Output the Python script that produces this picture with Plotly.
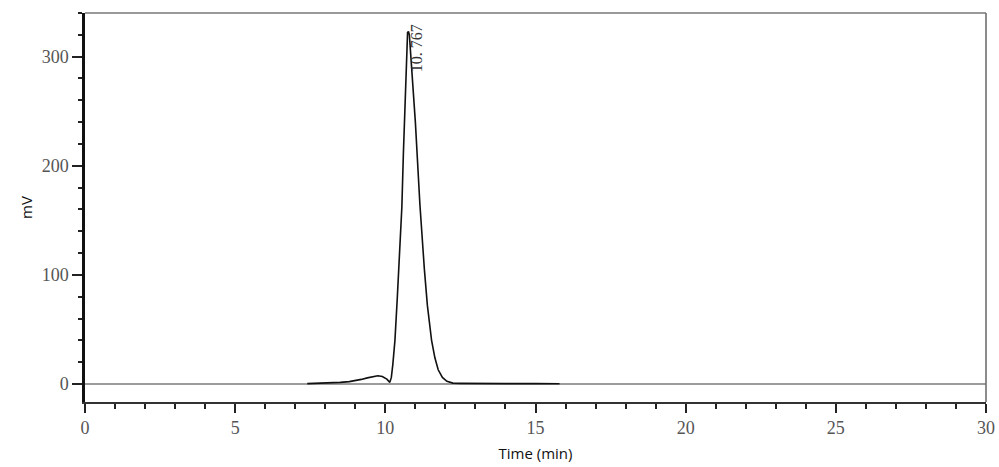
import plotly.graph_objects as go

# Chromatogram trace (time in min, signal in mV)
time_min = [7.4, 8.0, 8.5, 8.8, 9.0, 9.2, 9.4, 9.6, 9.75, 9.9, 10.05, 10.15, 10.2, 10.25,
            10.32, 10.4, 10.45, 10.5, 10.55, 10.6, 10.65, 10.7, 10.74, 10.77, 10.8,
            10.85, 10.9, 11.0, 11.1, 11.15, 11.3, 11.4, 11.54, 11.65, 11.76, 11.9,
            12.05, 12.25, 12.5, 13.0, 14.0, 15.0, 15.8]
signal_mv = [0.3, 0.8, 1.5, 2.2, 3.0, 4.2, 5.6, 7.0, 7.5, 6.8, 4.5, 1.5, 6.0, 18,
             40, 80, 105, 135, 162, 210, 258, 305, 322, 323, 320,
             300, 282, 240, 190, 165, 105, 72, 40, 24, 13, 6,
             2.5, 0.8, 0.6, 0.4, 0.3, 0.3, 0.2]

baseline_t = [0, 30]
baseline_v = [0, 0]

peak_time = [10.767]
peak_label = ["10. 767"]
peak_label_y = [308]

x_ticks = [0, 5, 10, 15, 20, 25, 30]
y_ticks = [0, 100, 200, 300]

fig = go.Figure()
fig.add_trace(go.Scatter(x=baseline_t, y=baseline_v, mode="lines",
                         line=dict(color="#3a3a3a", width=1.2), showlegend=False))
fig.add_trace(go.Scatter(x=time_min, y=signal_mv, mode="lines",
                         line=dict(color="#111111", width=1.6), showlegend=False))

fig.add_annotation(x=peak_time[0] + 0.3, y=peak_label_y[0], text=peak_label[0],
                   textangle=-90, showarrow=False,
                   font=dict(family="Liberation Serif", size=16, color="#333333"))

tickfont = dict(family="Liberation Serif", size=18, color="#555555")
fig.update_layout(
    width=999, height=467,
    margin=dict(l=85, r=13, t=13, b=65, autoexpand=False),
    plot_bgcolor="white", paper_bgcolor="white",
    xaxis=dict(range=[0, 30], tickvals=x_ticks, ticks="outside", ticklen=9,
               tickwidth=1.5, tickcolor="#222222", showgrid=False, zeroline=False,
               showline=True, linecolor="#333333", linewidth=1.5, automargin=False,
               tickfont=tickfont,
               minor=dict(dtick=1, ticks="outside", ticklen=5, tickwidth=1.5,
                          tickcolor="#222222", showgrid=False),
               title=dict(text="Time (min)", standoff=11,
                          font=dict(family="Open Sans", size=15, color="#111111"))),
    yaxis=dict(range=[-16.5, 340], tickvals=y_ticks, ticks="outside", ticklen=10,
               tickwidth=1.5, tickcolor="#222222", showgrid=False, zeroline=False,
               showline=True, linecolor="#111111", linewidth=2.5, automargin=False,
               tickfont=tickfont,
               minor=dict(dtick=20, ticks="outside", ticklen=4, tickwidth=1.5,
                          tickcolor="#222222", showgrid=False),
               title=dict(text="mV", standoff=6,
                          font=dict(family="Open Sans", size=15, color="#111111"))),
)
# top and right frame lines (lighter gray)
fig.add_shape(type="line", xref="paper", yref="paper", x0=0, x1=1, y0=1, y1=1,
              line=dict(color="#777777", width=1.5))
fig.add_shape(type="line", xref="paper", yref="paper", x0=1, x1=1, y0=0, y1=1,
              line=dict(color="#666666", width=1.5))

fig.write_html("out.html")
